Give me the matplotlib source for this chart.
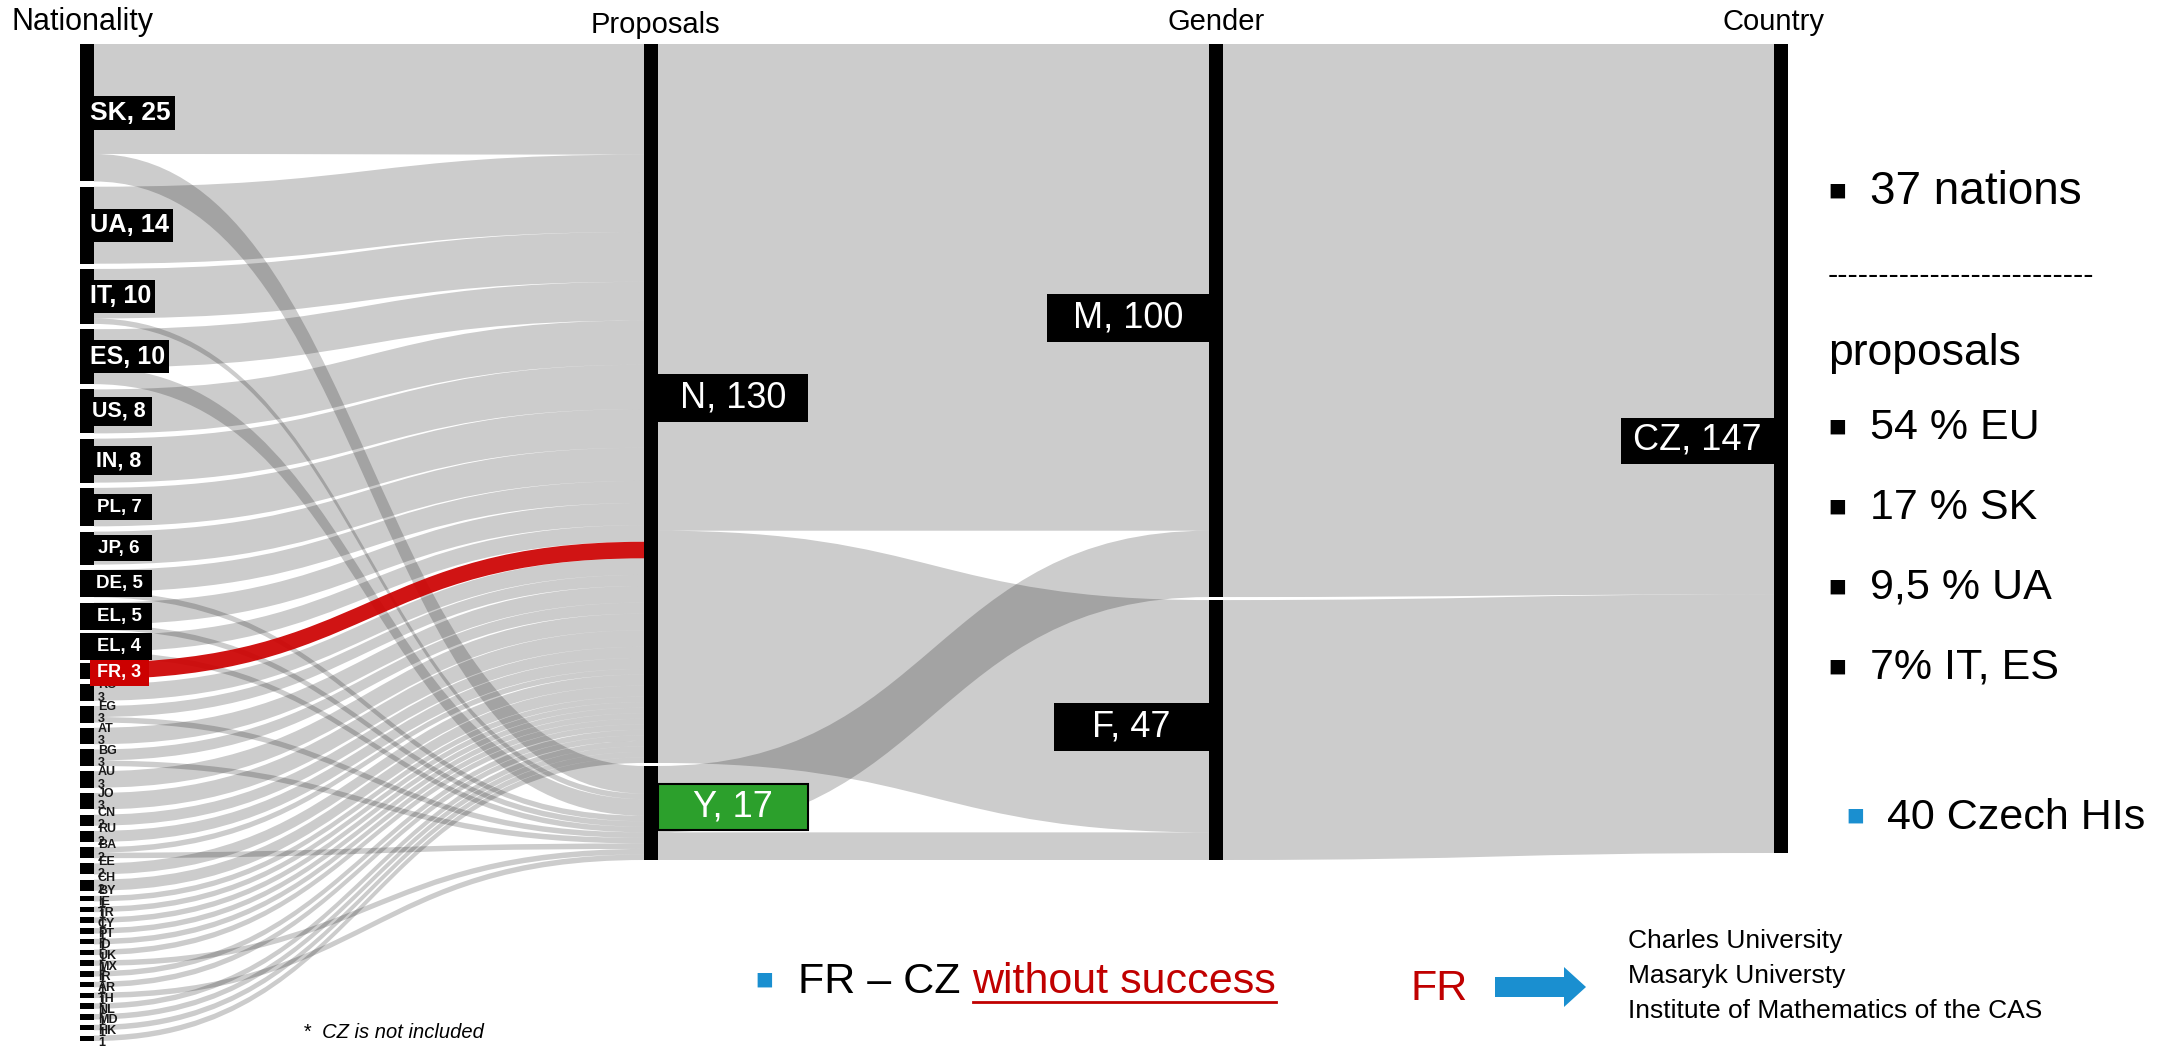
import matplotlib.pyplot as plt
from matplotlib.path import Path
from matplotlib.patches import PathPatch, Rectangle, FancyArrow
import numpy as np

plt.rcParams['font.family'] = ['Liberation Sans', 'DejaVu Sans']

# proposals per nationality (CZ excluded) and how many of them succeeded
nationalities = ['SK', 'UA', 'IT', 'ES', 'US', 'IN', 'PL', 'JP', 'DE', 'EL', 'EL', 'FR',
                 'RO', 'EG', 'AT', 'BG', 'AU', 'JO', 'CN', 'RU', 'BA', 'EE', 'CH',
                 'BY', 'IE', 'TR', 'CY', 'PT', 'ID', 'UK', 'MX', 'IR', 'AR', 'TH', 'NL', 'MD', 'HK']
proposals_total = [25, 14, 10, 10, 8, 8, 7, 6, 5, 5, 4, 3,
                   3, 3, 3, 3, 3, 3, 2, 2, 2, 2, 2,
                   1, 1, 1, 1, 1, 1, 1, 1, 1, 1, 1, 1, 1, 1]
proposals_yes = [5, 0, 1, 3, 0, 0, 0, 0, 1, 1, 1, 0,
                 0, 1, 0, 1, 0, 0, 0, 0, 1, 0, 0,
                 0, 0, 0, 0, 0, 0, 1, 0, 0, 1, 0, 0, 0, 0]
outcomes = ['N', 'Y']
genders = ['M', 'F']
# rows: N, Y   columns: M, F
outcome_gender = [[88, 42], [12, 5]]
country = 'CZ'
highlight = 'FR'

headers = ['Nationality', 'Proposals', 'Gender', 'Country']
notes_shares = ['54 % EU', '17 % SK', '9,5 % UA', '7% IT, ES']
institutions = ['Charles University', 'Masaryk Universty', 'Institute of Mathematics of the CAS']

W, H = 2163, 1048
fig = plt.figure(figsize=(W / 100, H / 100), dpi=100)
ax = fig.add_axes([0, 0, 1, 1])
ax.set_xlim(0, W)
ax.set_ylim(H, 0)
ax.axis('off')
renderer = fig.canvas.get_renderer()

TOP = 44
col_x = [87, 651, 1216, 1781]
col_bottom = [1041, 860, 860, 853]
col_gap = [5.24, 3, 3, 0]
BAR = 14
GRAY = dict(facecolor='black', alpha=0.2)
RED = dict(facecolor='#cc0000', alpha=0.92)
BLUE = '#1a8fd0'


def stack(values, bottom, gap):
    values = np.asarray(values, float)
    k = (bottom - TOP - gap * (len(values) - 1)) / values.sum()
    spans, y = [], TOP
    for v in values:
        spans.append((y, y + v * k))
        y += v * k + gap
    return spans, k


def ribbon(x0, s0, s1, x1, t0, t1, style):
    xm = (x0 + x1) / 2
    verts = [(x0, s0), (xm, s0), (xm, t0), (x1, t0),
             (x1, t1), (xm, t1), (xm, s1), (x0, s1), (x0, s0)]
    codes = [Path.MOVETO, Path.CURVE4, Path.CURVE4, Path.CURVE4,
             Path.LINETO, Path.CURVE4, Path.CURVE4, Path.CURVE4, Path.CLOSEPOLY]
    ax.add_patch(PathPatch(Path(verts, codes), lw=0, **style))


def boxed(x, y, s, fs, fc, side, min_w, pad, h, weight='normal', ec='none', shift=0):
    t = ax.text(0, y, s, fontsize=fs, color='white', ha='center', va='center',
                fontweight=weight, zorder=7)
    tw = t.get_window_extent(renderer).width
    w = max(min_w, tw + pad)
    x0 = x if side == 'left' else x - w
    t.set_x(x0 + w / 2 + shift)
    ax.add_patch(Rectangle((x0, y - h / 2), w, h, fc=fc, ec=ec, lw=1.5, zorder=6))


yes_total = sum(proposals_yes)
outcome_totals = [sum(proposals_total) - yes_total, yes_total]
gender_totals = list(np.sum(outcome_gender, axis=0))

nat_spans, nat_k = stack(proposals_total, col_bottom[0], col_gap[0])
out_spans, out_k = stack(outcome_totals, col_bottom[1], col_gap[1])
gen_spans, gen_k = stack(gender_totals, col_bottom[2], col_gap[2])
cz_spans, cz_k = stack([sum(gender_totals)], col_bottom[3], col_gap[3])

left = [x - BAR / 2 for x in col_x]
right = [x + BAR / 2 for x in col_x]

# nationality -> proposal outcome
cursor = [s[0] for s in out_spans]
for i, code in enumerate(nationalities):
    y = nat_spans[i][0]
    parts = [proposals_total[i] - proposals_yes[i], proposals_yes[i]]
    for j, v in enumerate(parts):
        if v == 0:
            continue
        style = RED if code == highlight else GRAY
        ribbon(right[0], y, y + v * nat_k, left[1], cursor[j], cursor[j] + v * out_k, style)
        y += v * nat_k
        cursor[j] += v * out_k

# outcome -> gender
cursor = [s[0] for s in gen_spans]
for j in range(len(outcomes)):
    y = out_spans[j][0]
    for g, v in enumerate(outcome_gender[j]):
        ribbon(right[1], y, y + v * out_k, left[2], cursor[g], cursor[g] + v * gen_k, GRAY)
        y += v * out_k
        cursor[g] += v * gen_k

# gender -> country
y = cz_spans[0][0]
for g, v in enumerate(gender_totals):
    ribbon(right[2], gen_spans[g][0], gen_spans[g][1], left[3], y, y + v * cz_k, GRAY)
    y += v * cz_k

# node bars
for c, spans in enumerate([nat_spans, out_spans, gen_spans, cz_spans]):
    for y0, y1 in spans:
        ax.add_patch(Rectangle((left[c], y0), BAR, y1 - y0, color='black', lw=0, zorder=3))

# nationality labels: boxed for the bigger ones, plain two-line text for the rest
for i, code in enumerate(nationalities):
    y0, y1 = nat_spans[i]
    v = proposals_total[i]
    yc = (y0 + y1) / 2
    if v >= 4 or code == highlight:
        fs = np.interp(v, [3, 5, 7, 8, 10, 25], [13, 13.5, 13.5, 15.5, 18, 19])
        h = fs * 1.39 + 8
        if code == highlight:
            boxed(right[0] - 4, yc + 2, f'{code}, {v}', fs, '#cc0000', 'left', 59, 12, h,
                  weight='bold')
        else:
            boxed(left[0], yc, f'{code}, {v}', fs, 'black', 'left', 72, 14, h,
                  weight='bold', shift=3)
    else:
        ax.text(right[0] + 4, yc - 1, f'{code}\n{v}', color='#1a1a1a',
                fontsize=9, fontweight='bold', ha='left', va='center',
                linespacing=1.05, zorder=5)

# outcome / gender / country labels
LBL = 26
for j, name in enumerate(outcomes):
    y0, y1 = out_spans[j]
    if name == 'Y':
        boxed(right[1], (y0 + y1) / 2 - 6, f'{name}, {outcome_totals[j]}', LBL, '#2ca02c',
              'left', 150, 34, 46, ec='black')
    else:
        boxed(right[1], (y0 + y1) / 2 - 5, f'{name}, {outcome_totals[j]}', LBL, 'black',
              'left', 150, 34, 48)
for g, name in enumerate(genders):
    y0, y1 = gen_spans[g]
    boxed(left[2], (y0 + y1) / 2 - 3, f'{name}, {gender_totals[g]}', LBL, 'black',
          'right', 155, 52, 48)
y0, y1 = cz_spans[0]
boxed(left[3], (y0 + y1) / 2 - 8, f'{country}, {sum(gender_totals)}', LBL, 'black',
      'right', 150, 24, 46)

# column headers
ax.text(11, 22, headers[0], fontsize=22, ha='left', va='center')
ax.text(655, 25, headers[1], fontsize=21, ha='center', va='center', zorder=6,
        bbox=dict(boxstyle='square,pad=0.15', fc='white', ec='none'))
ax.text(col_x[2], 22, headers[2], fontsize=21, ha='center', va='center')
ax.text(col_x[3] - 8, 22, headers[3], fontsize=21, ha='center', va='center')

# side notes
NOTE = 31
BUL = 21
ax.text(1837, 191, '\u25aa', fontsize=BUL, ha='center', va='center', family=['DejaVu Sans'])
ax.text(1870, 192, '37 nations', fontsize=33, ha='left', va='center')
ax.text(1828, 276, '-' * 26, fontsize=22, ha='left', va='center')
ax.text(1828, 353, 'proposals', fontsize=32, ha='left', va='center')
for n, txt in enumerate(notes_shares):
    yy = 428 + 80 * n
    ax.text(1837, yy - 1, '\u25aa', fontsize=BUL, ha='center', va='center', family=['DejaVu Sans'])
    ax.text(1870, yy, txt, fontsize=NOTE, ha='left', va='center')
ax.text(1855, 816, '\u25aa', fontsize=BUL, color=BLUE, ha='center', va='center',
        family=['DejaVu Sans'])
ax.text(1887, 818, '40 Czech HIs', fontsize=NOTE, ha='left', va='center')

# bottom notes
ax.text(303, 1032, '*  CZ is not included', fontsize=14.5, style='italic', ha='left', va='center')
ax.text(764, 980, '\u25aa', fontsize=BUL, color=BLUE, ha='center', va='center',
        family=['DejaVu Sans'])
t1 = ax.text(798, 982, 'FR \u2013 CZ ', fontsize=NOTE, ha='left', va='center')
x_end = t1.get_window_extent(renderer).x1
t2 = ax.text(x_end, 982, 'without success', fontsize=NOTE, color='#c00000',
             ha='left', va='center')
bb2 = t2.get_window_extent(renderer)
ax.plot([bb2.x0, bb2.x1], [1002, 1002], color='#c00000', lw=2)

ax.text(1411, 989, highlight, fontsize=NOTE, color='#c00000', ha='left', va='center')
ax.add_patch(FancyArrow(1495, 987, 91, 0, width=20, head_width=40, head_length=22,
                        length_includes_head=True, color=BLUE, lw=0))
for n, txt in enumerate(institutions):
    ax.text(1628, 941 + 35 * n, txt, fontsize=19, ha='left', va='center')

fig.savefig('out.png', dpi=100, facecolor='white')
